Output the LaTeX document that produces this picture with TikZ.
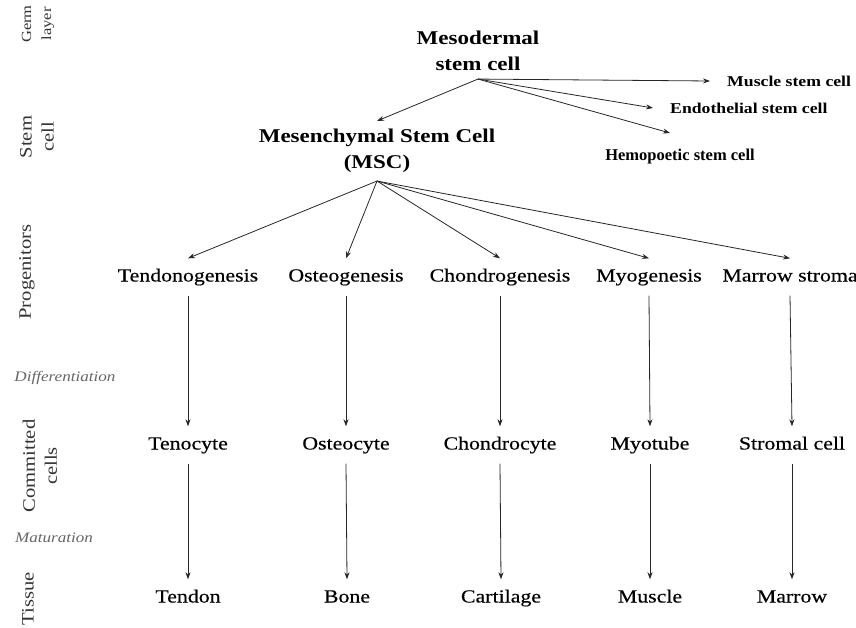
\documentclass[tikz,border=0pt]{standalone}
\usepackage{fontspec}
\setmainfont[FakeStretch=1.18]{Liberation Serif}
\newfontfamily\plainserif{Liberation Serif}
\newfontfamily\rowfont[FakeStretch=1.18,FakeBold=0.4]{Liberation Serif}
\usetikzlibrary{arrows.meta}
\begin{document}
\begin{tikzpicture}[x=1pt,y=-1pt,
  conn/.style={draw=black!85, line width=0.8pt, -{Stealth[length=7pt,width=5pt]}},
  rowlbl/.style={font=\rowfont\fontsize{18.5}{22}\selectfont, text height=13pt, text depth=4pt, inner xsep=2pt, inner ysep=10pt},
  head/.style={font=\bfseries\fontsize{19.5}{26}\selectfont, align=center, inner xsep=2pt, inner ysep=8pt},
  side/.style={font=\bfseries\fontsize{15}{18}\selectfont, anchor=west, inner sep=0pt},
  hemostyle/.style={font=\plainserif\bfseries\fontsize{16.5}{20}\selectfont, inner sep=0pt},
  axislbl/.style={font=\fontsize{17.5}{22}\selectfont, rotate=90, align=center, text=black!80, inner sep=0pt},
  phase/.style={font=\itshape\fontsize{14.5}{17}\selectfont, text=black!60, inner sep=0pt}
]
\useasboundingbox (0,0) rectangle (856,628);

% left axis labels
\node[axislbl, font=\fontsize{14}{20}\selectfont] (germ) at (38,24) {Germ\\layer};
\node[axislbl] (stemc) at (37,137) {Stem\\cell};
\node[axislbl] (prog) at (27,272) {Progenitors};
\node[phase] (diff) at (65,378) {Differentiation};
\node[axislbl] (comm) at (40,466) {Committed\\cells};
\node[phase] (mat) at (54,538) {Maturation};
\node[axislbl] (tissue) at (28,599) {Tissue};

% top
\node[head] (meso) at (478,51) {Mesodermal\\stem cell};
\node[head] (msc) at (377,151) {Mesenchymal Stem Cell\\(MSC)};
\node[side] (muscle) at (727,81) {Muscle stem cell};
\node[side] (endo) at (670,108) {Endothelial stem cell};
\node[hemostyle] (hemo) at (680,157) {Hemopoetic stem cell};
\coordinate (hemotip) at (670,133);

\draw[conn] (meso.south) -- ([xshift=-17pt]muscle.west);
\draw[conn] (meso.south) -- ([xshift=-17pt]endo.west);
\draw[conn] (meso.south) -- (hemotip);
\draw[conn] (meso.south) -- (msc.north);

% progenitors
\node[rowlbl] (tendo) at (188,277) {Tendonogenesis};
\node[rowlbl] (osteo) at (346,277) {Osteogenesis};
\node[rowlbl] (chondro) at (500,277) {Chondrogenesis};
\node[rowlbl] (myo) at (649,277) {Myogenesis};
\node[rowlbl] (stroma) at (790,277) {Marrow stroma};

% committed cells
\node[rowlbl] (teno) at (188,445) {Tenocyte};
\node[rowlbl] (osteocyte) at (346,445) {Osteocyte};
\node[rowlbl] (chondrocyte) at (500,445) {Chondrocyte};
\node[rowlbl] (myotube) at (650,445) {Myotube};
\node[rowlbl] (stromal) at (792,445) {Stromal cell};

% tissue
\node[rowlbl] (tendon) at (188,598) {Tendon};
\node[rowlbl] (bone) at (347,598) {Bone};
\node[rowlbl] (cartilage) at (501,598) {Cartilage};
\node[rowlbl] (muscletis) at (650,598) {Muscle};
\node[rowlbl] (marrow) at (792,598) {Marrow};

\foreach \t in {tendo,osteo,chondro,myo,stroma}
  \draw[conn] (msc.south) -- (\t.north);

\draw[conn] (tendo.south) -- (teno.north);
\draw[conn] (osteo.south) -- (osteocyte.north);
\draw[conn] (chondro.south) -- (chondrocyte.north);
\draw[conn] (myo.south) -- (myotube.north);
\draw[conn] (stroma.south) -- (stromal.north);

\draw[conn] (teno.south) -- (tendon.north);
\draw[conn] (osteocyte.south) -- (bone.north);
\draw[conn] (chondrocyte.south) -- (cartilage.north);
\draw[conn] (myotube.south) -- (muscletis.north);
\draw[conn] (stromal.south) -- (marrow.north);
\end{tikzpicture}
\end{document}
